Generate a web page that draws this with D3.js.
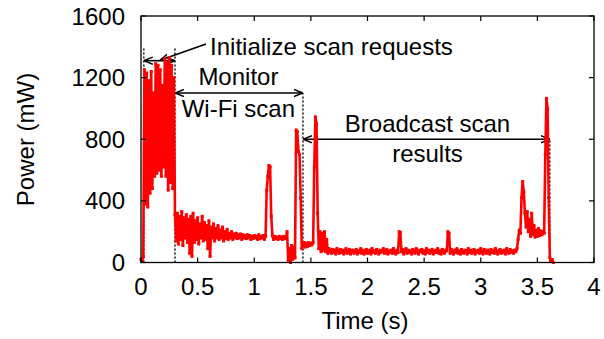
<!DOCTYPE html>
<html>
<head>
<meta charset="utf-8">
<script src="https://cdn.jsdelivr.net/npm/d3@7"></script>
<style>
  html, body { margin: 0; padding: 0; background: #fff; }
  svg { display: block; }
  text { font-family: "Liberation Sans", Arial, sans-serif; fill: #000; }
</style>
</head>
<body>
<svg id="chart" width="604" height="339"></svg>
<script>
// Power trace sampled every 10 ms, split by phase of the scan.
const sampleInterval = 0.01;

const idleStart = 0.00;
const idlePower = [20, 10, 40];

const initStart = 0.03;
const initPower = [1250, 380, 1230, 360, 1180, 450, 1240, 480, 1100, 560,
                   1290, 580, 1280, 600, 1250, 560, 1150, 620, 1320, 560,
                   1300, 470, 1330, 520, 1280, 480, 1200];

const monitorStart = 0.30;
const monitorPower = [310, 140, 320, 120, 300, 150, 330, 110, 290, 160,
                      310, 130, 280, 60, 300, 40, 320, 130, 270, 150,
                      290, 120, 250, 160, 300, 140, 260, 150, 240, 90,
                      270, 40, 230, 160, 250, 140, 220, 160, 240, 150,
                      210, 160, 230, 140, 200, 155, 215, 150, 190, 160,
                      200, 150, 185, 160, 190, 155, 180, 160, 185, 150,
                      180, 160, 175, 155, 180, 160, 175, 150, 170, 155,
                      175, 160, 170, 150, 180, 155, 170, 160, 175, 150,
                      170, 470, 560, 630, 620, 300, 175, 150, 170, 155,
                      165, 150, 170, 155, 165, 150, 170, 155, 160];

const dipStart = 1.29;
const dipPower = [200, 10, 90, 0, 110, 20, 100, 30];

const spikeStart = 1.37;
const spikePower = [860, 850, 720, 700, 420, 90, 110, 130, 100, 125,
                    105, 130, 110, 125, 115, 130, 620, 945, 900, 320,
                    90, 200, 70, 190, 80, 200, 70, 150, 60, 90];

const broadcastStart = 1.67;
const broadcastPower = [75, 60, 85, 65, 80, 55, 90, 70, 60, 85,
                        65, 80, 55, 75, 90, 60, 70, 85, 55, 75,
                        80, 60, 70, 85, 55, 75, 65, 90, 60, 80,
                        55, 75, 85, 60, 70, 80, 55, 90, 65, 75,
                        60, 85, 70, 55, 80, 65, 75, 90, 60, 70,
                        85, 55, 75, 65, 80, 60, 90, 70, 55, 80,
                        65, 200, 195, 70, 85, 55, 75, 90, 60, 80,
                        65, 75, 55, 85, 70, 60, 90, 75, 55, 80,
                        70, 85, 60, 75, 55, 90, 65, 80, 60, 75,
                        85, 55, 70, 80, 65, 90, 60, 75, 55, 85,
                        70, 60, 80, 75, 200, 190, 60, 85, 70, 55,
                        80, 65, 90, 60, 75, 55, 85, 70, 60, 80,
                        75, 55, 90, 65, 80, 60, 70, 85, 55, 75,
                        65, 80, 60, 90, 70, 55, 85, 75, 60, 80,
                        70, 55, 85, 65, 80, 60, 90, 75, 55, 70,
                        85, 60, 75, 65, 80, 55, 90, 70, 60, 85,
                        65, 75, 60, 80, 70, 90];

const tailStart = 3.33;
const tailPower = [150, 210, 190, 420, 525, 460, 320, 230, 330, 200,
                   280, 170, 320, 180, 240, 165, 210, 170, 220, 175,
                   205, 180, 200, 190, 700, 1065, 1000, 420, 30, 10,
                   20, 0];

const xTicks = [0, 0.5, 1, 1.5, 2, 2.5, 3, 3.5, 4];
const xTickLabels = ["0", "0.5", "1", "1.5", "2", "2.5", "3", "3.5", "4"];
const yTicks = [0, 400, 800, 1200, 1600];
const yTickLabels = ["0", "400", "800", "1200", "1600"];

// Phase boundaries (s) and the heights (mW) of their markers.
const boundaryTimes = [0.025, 0.3, 1.43, 3.61];
const boundaryTops = [1400, 1400, 1100, 800];

const phases = [
  [idleStart, idlePower], [initStart, initPower], [monitorStart, monitorPower],
  [dipStart, dipPower], [spikeStart, spikePower], [broadcastStart, broadcastPower],
  [tailStart, tailPower]
];
const samples = [];
phases.forEach(([start, values]) => {
  values.forEach((p, i) => samples.push({ t: start + i * sampleInterval, p }));
});

const margin = { left: 141, right: 10, top: 16, bottom: 76.5 };
const width = 604, height = 339;
const innerW = width - margin.left - margin.right;
const innerH = height - margin.top - margin.bottom;

const x = d3.scaleLinear().domain([0, 4]).range([margin.left, margin.left + innerW]);
const y = d3.scaleLinear().domain([0, 1600]).range([margin.top + innerH, margin.top]);

const svg = d3.select("#chart");

svg.append("defs").append("marker")
  .attr("id", "head")
  .attr("viewBox", "0 -5 10 10")
  .attr("refX", 10).attr("refY", 0)
  .attr("markerWidth", 9).attr("markerHeight", 9)
  .attr("markerUnits", "userSpaceOnUse")
  .attr("orient", "auto-start-reverse")
  .append("path")
  .attr("d", "M0,-4L10,0L0,4")
  .attr("fill", "none").attr("stroke", "#000").attr("stroke-width", 1.6);

// Phase boundary markers
svg.append("g").selectAll("line")
  .data(boundaryTimes)
  .join("line")
  .attr("x1", d => x(d)).attr("x2", d => x(d))
  .attr("y1", y(0)).attr("y2", (d, i) => y(boundaryTops[i]))
  .attr("stroke", "#000").attr("stroke-width", 1.4)
  .attr("stroke-dasharray", "2,2");

// Span arrows
const spans = [
  { from: 0.025, to: 0.3, p: 1310 },
  { from: 0.3, to: 1.43, p: 1100 },
  { from: 1.43, to: 3.61, p: 800 }
];
svg.append("g").selectAll("line")
  .data(spans)
  .join("line")
  .attr("x1", d => x(d.from)).attr("x2", d => x(d.to))
  .attr("y1", d => y(d.p)).attr("y2", d => y(d.p))
  .attr("stroke", "#000").attr("stroke-width", 1.6)
  .attr("marker-start", "url(#head)").attr("marker-end", "url(#head)");

// Pointer from the first label to its span
svg.append("line")
  .attr("x1", x(0.574)).attr("y1", y(1418))
  .attr("x2", x(0.168)).attr("y2", y(1312))
  .attr("stroke", "#000").attr("stroke-width", 1.6)
  .attr("marker-end", "url(#head)");

// Power trace
const line = d3.line().x(d => x(d.t)).y(d => y(d.p));
svg.append("path")
  .datum(samples)
  .attr("d", line)
  .attr("fill", "none")
  .attr("stroke", "#ff0000")
  .attr("stroke-width", 2.6)
  .attr("stroke-linejoin", "round");
svg.append("g").selectAll("rect")
  .data(samples)
  .join("rect")
  .attr("x", d => x(d.t) - 1.5).attr("y", d => y(d.p) - 1.5)
  .attr("width", 3).attr("height", 3)
  .attr("fill", "#ff0000");

// Frame with inward ticks on all sides
const frame = svg.append("g");
frame.append("rect")
  .attr("x", x(0)).attr("y", y(1600))
  .attr("width", x(4) - x(0)).attr("height", y(0) - y(1600))
  .attr("fill", "none").attr("stroke", "#000").attr("stroke-width", 1.3);

const tickLen = 5;
xTicks.forEach(v => {
  frame.append("line").attr("x1", x(v)).attr("x2", x(v))
    .attr("y1", y(0)).attr("y2", y(0) - tickLen).attr("stroke", "#000").attr("stroke-width", 1.2);
  frame.append("line").attr("x1", x(v)).attr("x2", x(v))
    .attr("y1", y(1600)).attr("y2", y(1600) + tickLen).attr("stroke", "#000").attr("stroke-width", 1.2);
});
yTicks.forEach(v => {
  frame.append("line").attr("x1", x(0)).attr("x2", x(0) + tickLen)
    .attr("y1", y(v)).attr("y2", y(v)).attr("stroke", "#000").attr("stroke-width", 1.2);
  frame.append("line").attr("x1", x(4)).attr("x2", x(4) - tickLen)
    .attr("y1", y(v)).attr("y2", y(v)).attr("stroke", "#000").attr("stroke-width", 1.2);
});

// Tick labels
svg.append("g").selectAll("text")
  .data(xTicks)
  .join("text")
  .attr("x", d => x(d)).attr("y", y(0) + 32.5)
  .attr("text-anchor", "middle").attr("font-size", 24)
  .text((d, i) => xTickLabels[i]);
svg.append("g").selectAll("text")
  .data(yTicks)
  .join("text")
  .attr("x", x(0) - 16).attr("y", d => y(d) + 8.5)
  .attr("text-anchor", "end").attr("font-size", 24)
  .text((d, i) => yTickLabels[i]);

// Axis titles
svg.append("text")
  .attr("x", 365).attr("y", 329)
  .attr("text-anchor", "middle").attr("font-size", 24)
  .text("Time (s)");
svg.append("text")
  .attr("transform", "translate(33.5,139.5) rotate(-90)")
  .attr("text-anchor", "middle").attr("font-size", 24)
  .text("Power (mW)");

// Phase annotations
const notes = [
  { text: "Initialize scan requests", t: 0.61, p: 1347, anchor: "start" },
  { text: "Monitor", t: 0.86, p: 1152, anchor: "middle" },
  { text: "Wi-Fi scan", t: 0.86, p: 944, anchor: "middle" },
  { text: "Broadcast scan", t: 2.53, p: 849, anchor: "middle" },
  { text: "results", t: 2.53, p: 654, anchor: "middle" }
];
svg.append("g").selectAll("text")
  .data(notes)
  .join("text")
  .attr("x", d => x(d.t)).attr("y", d => y(d.p))
  .attr("text-anchor", d => d.anchor).attr("font-size", 24)
  .text(d => d.text);
</script>
</body>
</html>
